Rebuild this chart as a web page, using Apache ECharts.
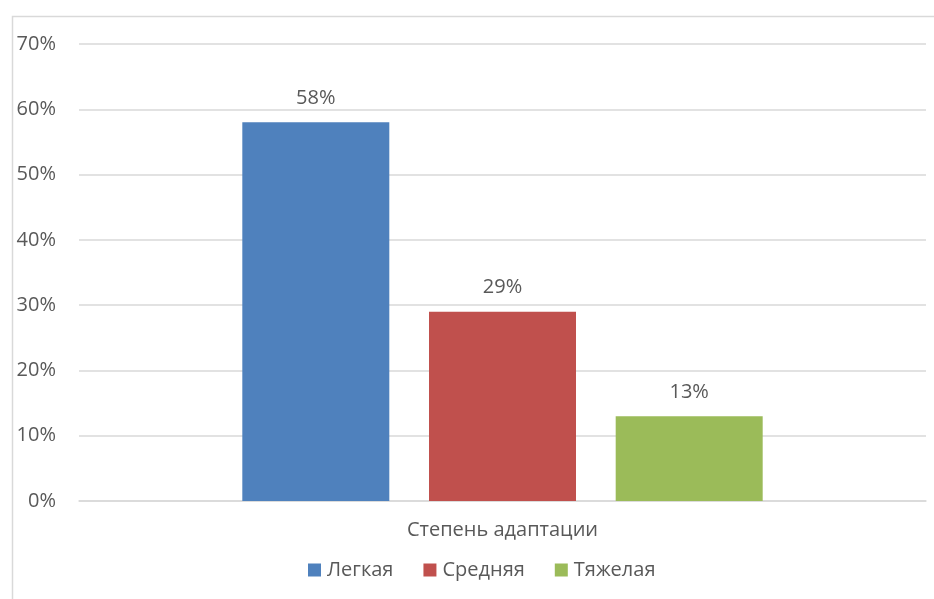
<!DOCTYPE html>
<html>
<head>
<meta charset="utf-8">
<script src="https://cdn.jsdelivr.net/npm/echarts@6/dist/echarts.min.js"></script>
<style>
  html, body {margin: 0; padding: 0; background: #fff;}
  #chart {width: 934px; height: 599px;}
</style>
</head>
<body>
<div id="chart"></div>
<script>
const categories = ['Степень адаптации'];
const seriesNames = ['Легкая', 'Средняя', 'Тяжелая'];
const legkaya = [58];
const srednyaya = [29];
const tyazhelaya = [13];
const colors = ['#4f81bd', '#c0504d', '#9bbb59'];

const textColor = '#595959';
const fontFamily = '"Open Sans", sans-serif';
const fs = 20;

const myChart = echarts.init(document.getElementById('chart'));
myChart.setOption({
    animation: false,
    textStyle: {fontFamily: fontFamily, color: textColor},
    graphic: [{
        type: 'rect',
        left: 10,
        top: 14,
        shape: {width: 1000, height: 1000},
        style: {fill: 'none', stroke: '#d9d9d9', lineWidth: 1.5},
        silent: true
    }],
    legend: {
        bottom: 14,
        left: 303,
        itemWidth: 13,
        itemHeight: 13,
        itemGap: 30,
        icon: 'rect',
        textStyle: {color: textColor, fontSize: fs, fontFamily: fontFamily, padding: [0, 0, 0, 1]},
        data: seriesNames
    },
    grid: {
        left: 79,
        right: 8,
        top: 44,
        bottom: 98
    },
    xAxis: {
        type: 'category',
        data: categories,
        axisTick: {show: false},
        axisLine: {lineStyle: {color: '#d9d9d9', width: 1.5}},
        axisLabel: {color: textColor, fontSize: fs, margin: 19, fontFamily: fontFamily}
    },
    yAxis: {
        type: 'value',
        min: 0,
        max: 70,
        interval: 10,
        axisLine: {show: false},
        axisTick: {show: false},
        splitLine: {lineStyle: {color: '#d9d9d9', width: 1.5}},
        axisLabel: {
            color: textColor,
            fontSize: fs,
            margin: 23,
            fontFamily: fontFamily,
            formatter: '{value}%'
        }
    },
    series: [
        {name: seriesNames[0], data: legkaya},
        {name: seriesNames[1], data: srednyaya},
        {name: seriesNames[2], data: tyazhelaya}
    ].map((obj, i) => ({
        ...obj,
        type: 'bar',
        barWidth: 147,
        barGap: '27%',
        itemStyle: {color: colors[i]},
        label: {
            show: true,
            position: 'top',
            distance: 14,
            color: textColor,
            fontSize: fs,
            fontFamily: fontFamily,
            formatter: '{c}%'
        }
    }))
});
</script>
</body>
</html>
